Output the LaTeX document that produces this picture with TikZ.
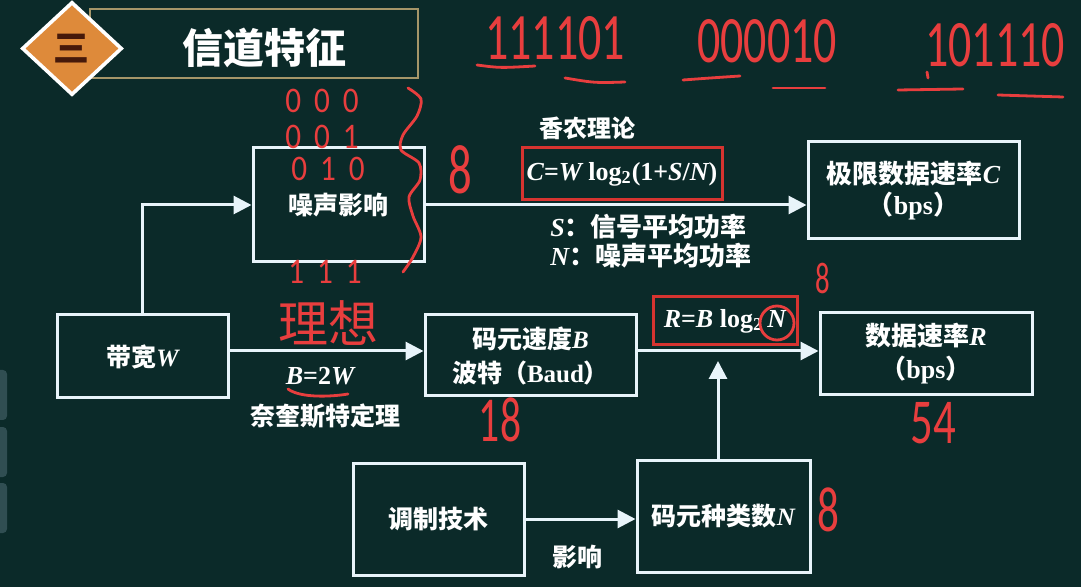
\documentclass[tikz,border=0pt]{standalone}
\usepackage{fontspec}
\setmainfont{Liberation Serif}
\newfontfamily\cjk{Noto Sans CJK SC}
\newfontfamily\tms{Liberation Serif}
\newfontfamily\hand{Carlito}
\usetikzlibrary{arrows.meta,calc,shapes.geometric}

\definecolor{slidebg}{RGB}{11,42,41}
\definecolor{boxline}{RGB}{232,244,250}
\definecolor{redbox}{RGB}{214,52,48}
\definecolor{ink}{RGB}{232,62,62}
\definecolor{framecol}{RGB}{165,150,105}
\definecolor{badgecol}{RGB}{222,138,58}
\definecolor{badgetext}{RGB}{70,25,10}
\definecolor{tabgrey}{RGB}{48,78,82}

% bold italic variable letters
\newcommand\vb[1]{{\tms\bfseries\itshape #1}}
\newcommand\rb[1]{{\tms\bfseries #1}}
% pen writing: size, horizontal and vertical stretch, text
\newcommand\scrib[4]{{\fontsize{#1}{#1}\selectfont\scalebox{#2}[#3]{#4}}}

\tikzset{
  box/.style={draw=boxline, line width=1.5pt, text=white, align=center,
    font=\cjk\bfseries\fontsize{12.5}{17}\selectfont, inner sep=0pt},
  formula/.style={draw=redbox, line width=1.5pt, text=white,
    font=\tms\bfseries\fontsize{13}{15}\selectfont, inner sep=0pt},
  lbl/.style={text=white, font=\cjk\bfseries\fontsize{12.5}{15}\selectfont, inner sep=0pt},
  flow/.style={draw=boxline, line width=1.5pt, -{Triangle[length=9pt,width=9pt]}},
  hand/.style={text=ink, font=\hand, inner sep=0pt},
  scrawl/.style={draw=ink, line width=1.4pt, line cap=round, line join=round},
}

\begin{document}
\begin{tikzpicture}[x=0.5pt,y=-0.5pt]
\fill[slidebg] (0,0) rectangle (1081,587);
\useasboundingbox (0,0) rectangle (1081,587);

% side tabs of the viewer
\fill[tabgrey, rounded corners=2pt] (-6,370) rectangle (7,420);
\fill[tabgrey, rounded corners=2pt] (-6,427) rectangle (7,477);
\fill[tabgrey, rounded corners=2pt] (-6,483) rectangle (7,533);

% title bar with numbered badge
\node[draw=framecol, line width=1.2pt, minimum width=164pt, minimum height=34.5pt,
      inner sep=0pt] (titlebar) at (254,43.5) {};
\node[text=white, font=\cjk\bfseries\fontsize{20.5}{24}\selectfont] (title) at (264,48) {信道特征};
\node[diamond, draw=white, fill=badgecol, line width=1.8pt, minimum width=50pt,
      minimum height=46.5pt, inner sep=0pt, text=badgetext,
      font=\cjk\bfseries\fontsize{18}{20}\selectfont] (badge) at (72,48.5) {三};

% boxes
\node[box, minimum width=85.5pt, minimum height=57pt] (noise) at (338.5,205) {噪声影响};
\node[box, minimum width=105.5pt, minimum height=48.5pt, font=\cjk\bfseries\fontsize{13}{15.5}\selectfont]
  (limit) at (913.5,190.5) {极限数据速率\vb{C}\\（\rb{bps}）};
\node[box, minimum width=85.5pt, minimum height=41.5pt] (bw) at (142.5,356.5) {带宽\vb{W}};
\node[box, minimum width=105.5pt, minimum height=40.5pt] (baud) at (530.5,355.5)
  {码元速度\vb{B}\\波特（\rb{Baud}）};
\node[box, minimum width=106pt, minimum height=41pt, font=\cjk\bfseries\fontsize{13}{16.5}\selectfont]
  (rate) at (926,354) {数据速率\vb{R}\\（\rb{bps}）};
\node[box, minimum width=85.5pt, minimum height=56pt] (mod) at (438.5,519) {调制技术};
\node[box, minimum width=86.5pt, minimum height=56pt] (kinds) at (723.5,516) {码元种类数\vb{N}};

% formulas
\node[formula, minimum width=100pt, minimum height=26pt] (cform) at (622,174)
  {{\itshape C}={\itshape W} log\textsubscript{2}(1+{\itshape S}/{\itshape N})};
\node[formula, minimum width=72pt, minimum height=24pt] (rform) at (725,321)
  {{\itshape R}={\itshape B} log\textsubscript{2}\,{\itshape N}};

% labels
\node[lbl, font=\cjk\bfseries\fontsize{12}{14}\selectfont] (shannon) at (587,128) {香农理论};
\node[lbl, anchor=west, font=\cjk\bfseries\fontsize{13}{15}\selectfont] (sdef) at (550,227) {\vb{S}：信号平均功率};
\node[lbl, anchor=west, font=\cjk\bfseries\fontsize{13}{15}\selectfont] (ndef) at (550,256) {\vb{N}：噪声平均功率};
\node[lbl, font=\tms\bfseries\fontsize{13}{15}\selectfont] (nyq) at (320,376) {{\itshape B}=2{\itshape W}};
\node[lbl] (nyqname) at (325,416) {奈奎斯特定理};
\node[lbl] (effect) at (577,557) {影响};

% connectors
\coordinate (lineB) at (0,351);
\coordinate (tipN) at (718,361);
\draw[flow] (bw.north) |- (noise.west);
\draw[flow] (noise.east) -- (noise.east -| limit.west);
\draw[flow] (bw.east |- lineB) -- (baud.west |- lineB);
\draw[flow] (baud.east |- lineB) -- (rate.west |- lineB);
\draw[flow] (kinds.north -| tipN) -- (tipN);
\draw[flow] (mod.east) -- (mod.east -| kinds.west);

% handwritten notes: bit groups along the top
\node[hand] (bits1) at (555,38) {\scrib{17}{1.35}{1.95}{111101}};
\node[hand] (bits2) at (767,41) {\scrib{17}{1.35}{1.95}{000010}};
\node[hand] (bits3) at (995,45) {\scrib{17}{1.35}{1.95}{101110}};
\draw[scrawl] (477,65) .. controls (500,68) .. (535,66);
\draw[scrawl] (565,78) .. controls (595,83) .. (625,82);
\draw[scrawl] (683,80) .. controls (710,78) .. (740,76);
\draw[scrawl] (773,88) -- (825,88);
\draw[scrawl] (898,90) -- (963,89);
\draw[scrawl] (927,72) -- (928,78);
\draw[scrawl] (998,95) -- (1063,97);

% three-bit codes beside the noise box
\node[hand] (c000) at (322,101) {\scrib{12}{1.3}{1.5}{0\hspace{5pt}0\hspace{5pt}0}};
\node[hand] (c001) at (322,137) {\scrib{12}{1.3}{1.5}{0\hspace{5pt}0\hspace{5pt}1}};
\node[hand] (c010) at (328,169) {\scrib{12}{1.3}{1.5}{0\hspace{5pt}1\hspace{5pt}0}};
\node[hand] (c111) at (325,272) {\scrib{12}{1.3}{1.5}{1\hspace{5pt}1\hspace{5pt}1}};
\draw[scrawl] plot[smooth] coordinates {(408,88) (421,99) (417,116) (403,135) (401,150)
  (419,163) (420,180) (409,197) (413,216) (421,237) (413,257) (403,272)};
\node[hand] (eightA) at (460,170) {\scrib{18}{1.3}{1.95}{8}};

\node[text=ink, font=\cjk\fontsize{25}{27}\selectfont] (ideal) at (328,323) {理想};
\draw[scrawl] (288,389) .. controls (300,398) and (330,397) .. (348,394);
\draw[scrawl] (777,323) circle[radius=8.5pt];
\node[hand] (eightB) at (823,278) {\scrib{12}{1.2}{1.85}{8}};
\node[hand] (n18) at (500,420) {\scrib{16}{1.3}{2}{18}};
\node[hand] (n54) at (933,423) {\scrib{16}{1.4}{2}{54}};
\node[hand] (eightC) at (828,510) {\scrib{16}{1.35}{2}{8}};
\end{tikzpicture}
\end{document}
